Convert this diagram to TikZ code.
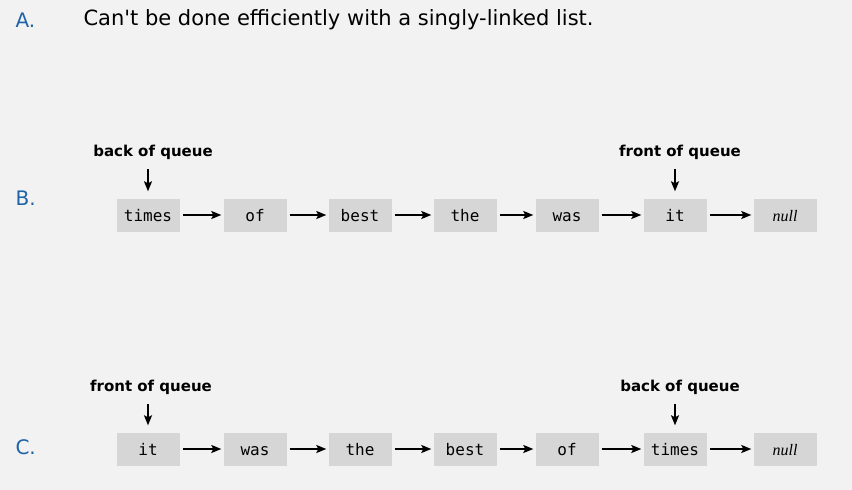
\documentclass[tikz,border=0pt]{standalone}
\usepackage{fontspec}
\setmainfont{DejaVu Sans}
\setmonofont{DejaVu Sans Mono}
\newfontfamily\nullserif{Liberation Serif}
\usetikzlibrary{positioning, arrows.meta}
\definecolor{bgGray}{HTML}{F2F2F2}
\definecolor{boxGray}{HTML}{D6D6D6}
\definecolor{partBlue}{HTML}{1F63A8}
\tikzset{
  item/.style={fill=boxGray, minimum width=63pt, minimum height=33pt, inner sep=0pt,
    text height=13pt, text depth=1pt, font=\ttfamily\fontsize{16}{16}\selectfont},
  nullitem/.style={item, font=\nullserif\itshape\fontsize{16}{16}\selectfont},
  link/.style={-{Stealth[length=10pt, width=8pt, inset=2pt]}, line width=1.7pt, shorten <=3pt, shorten >=2pt},
  pointer/.style={-{Stealth[length=10pt, width=8pt, inset=2pt]}, line width=1.7pt},
  qlabel/.style={font=\bfseries\fontsize{15}{15}\selectfont},
  part/.style={text=partBlue, font=\fontsize{20}{20}\selectfont}
}
\begin{document}
\begin{tikzpicture}[x=1pt, y=-1pt]

    \fill[bgGray] (0,0) rectangle (852,490);

    % answer A
    \node[part, anchor=west] (partA) at (12,20) {A.};
    \node[anchor=west, font=\fontsize{21}{21}\selectfont] (textA) at (80,20) {Can\textquotesingle t be done efficiently with a singly-linked list.};

    % answer B
    \node[part, anchor=west] (partB) at (12,198) {B.};
    \node[item] (b1) at (148,215) {times};
    \node[item] (b2) at (255,215) {of};
    \node[item] (b3) at (360,215) {best};
    \node[item] (b4) at (465,215) {the};
    \node[item] (b5) at (567,215) {was};
    \node[item] (b6) at (675,215) {it};
    \node[nullitem] (b7) at (785,215) {null};
    \draw[link] (b1) -- (b2);
    \draw[link] (b2) -- (b3);
    \draw[link] (b3) -- (b4);
    \draw[link] (b4) -- (b5);
    \draw[link] (b5) -- (b6);
    \draw[link] (b6) -- (b7);

    \node[qlabel] (backB) at (153,152) {back of queue};
    \node[qlabel] (frontB) at (680,152) {front of queue};
    \coordinate (backBtip) at (148,169);
    \coordinate (frontBtip) at (675,169);
    \draw[pointer] (backBtip) -- ([yshift=7pt]b1.north);
    \draw[pointer] (frontBtip) -- ([yshift=7pt]b6.north);

    % answer C
    \node[part, anchor=west] (partC) at (12,447) {C.};
    \node[item] (c1) at (148,449) {it};
    \node[item] (c2) at (255,449) {was};
    \node[item] (c3) at (360,449) {the};
    \node[item] (c4) at (465,449) {best};
    \node[item] (c5) at (567,449) {of};
    \node[item] (c6) at (675,449) {times};
    \node[nullitem] (c7) at (785,449) {null};
    \draw[link] (c1) -- (c2);
    \draw[link] (c2) -- (c3);
    \draw[link] (c3) -- (c4);
    \draw[link] (c4) -- (c5);
    \draw[link] (c5) -- (c6);
    \draw[link] (c6) -- (c7);

    \node[qlabel] (frontC) at (151,387) {front of queue};
    \node[qlabel] (backC) at (680,387) {back of queue};
    \coordinate (frontCtip) at (148,404);
    \coordinate (backCtip) at (675,404);
    \draw[pointer] (frontCtip) -- ([yshift=7pt]c1.north);
    \draw[pointer] (backCtip) -- ([yshift=7pt]c6.north);

\end{tikzpicture}
\end{document}
